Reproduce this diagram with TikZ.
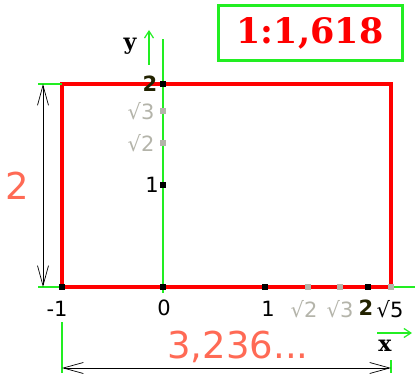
\documentclass[tikz,border=0pt]{standalone}
\usepackage{fontspec}
\setmainfont{DejaVu Sans}
\newfontfamily\serifb{DejaVu Serif}
\usetikzlibrary{arrows.meta}
\definecolor{gr}{HTML}{22EE22}
\definecolor{salm}{HTML}{FF6A55}
\definecolor{gry}{HTML}{B4B4AA}
\definecolor{olv}{HTML}{222200}
\begin{document}
\begin{tikzpicture}[x=1pt,y=-1pt,
  axis/.style={gr, line width=1.6pt},
  axarrow/.style={gr, line width=1.5pt, -{Straight Barb[length=7pt,width=9pt,line width=1.2pt]}},
  ext/.style={gr, line width=1.2pt},
  dim/.style={black, line width=0.8pt, {Straight Barb[length=20pt,width=11pt,line width=0.7pt]}-{Straight Barb[length=20pt,width=11pt,line width=0.7pt]}},
  tk/.style={fill=black, minimum size=5.5pt, inner sep=0pt, draw=none},
  tkg/.style={fill=gry, minimum size=5.5pt, inner sep=0pt, draw=none},
  lab/.style={font=\fontsize{21}{21}\selectfont, inner sep=0pt},
  labg/.style={lab, text=gry},
  labb/.style={lab, text=olv, font=\bfseries\fontsize{21}{21}\selectfont},
  big/.style={font=\fontsize{37}{37}\selectfont, text=salm, inner sep=0pt},
  axname/.style={font=\serifb\bfseries\fontsize{22}{22}\selectfont, inner sep=0pt}
]
\useasboundingbox (0,0) rectangle (415,379);
% key points
\coordinate (A) at (62,287);
\coordinate (B) at (391,287);
\coordinate (C) at (391,84);
\coordinate (D) at (62,84);
\coordinate (xl) at (38,287);
\coordinate (xr) at (415,287);
\coordinate (yt) at (163,39);
\coordinate (yb) at (163,293);
% axes
\draw[axis] (xl) -- (xr);
\draw[axis] (yb) -- (yt);
\coordinate (ya1) at (149,65);
\coordinate (ya2) at (149,30);
\draw[axarrow] (ya1) -- (ya2);
\coordinate (xa1) at (377,333);
\coordinate (xa2) at (412,333);
\draw[axarrow] (xa1) -- (xa2);
\node[axname] (ylab) at (130,46) {y};
\node[axname] (xlab) at (385,346) {x};
% rectangle
\draw[red, line width=3.5pt] (A) rectangle (C);
% extension lines
\coordinate (e1) at (38,84);
\draw[ext] (e1) -- (D);
\coordinate (e2) at (62,322);
\coordinate (e3) at (62,373);
\draw[ext] (e2) -- (e3);
\coordinate (e4) at (391,360);
\coordinate (e5) at (391,373);
\draw[ext] (e4) -- (e5);
% dimension arrows
\coordinate (v1) at (43,84);
\coordinate (v2) at (43,287);
\draw[dim] (v1) -- (v2);
\coordinate (h1) at (62,368);
\coordinate (h2) at (391,368);
\draw[dim] (h1) -- (h2);
% ticks
\node[tk] (tm1) at (62,287) {};
\node[tk] (t0) at (163,287) {};
\node[tk] (t1) at (265,287) {};
\node[tkg] (ts2) at (308,287) {};
\node[tkg] (ts3) at (340,287) {};
\node[tk] (t2) at (368,287) {};
\node[tkg] (ts5) at (391,287) {};
\node[tk] (u1) at (163,185) {};
\node[tkg] (us2) at (163,143) {};
\node[tkg] (us3) at (163,111) {};
\node[tk] (u2) at (163,84) {};
% tick labels x
\node[lab] (lm1) at (57,309) {-1};
\node[lab] (l0) at (164,308) {0};
\node[lab] (l1) at (268,309) {1};
\node[labg] (ls2) at (304,309) {√2};
\node[labg] (ls3) at (340,309) {√3};
\node[labb] (l2) at (366,308) {2};
\node[lab] (ls5) at (390,309) {√5};
% tick labels y
\node[labb] (m2) at (150,84) {2};
\node[labg] (ms3) at (141,111) {√3};
\node[labg] (ms2) at (141,143) {√2};
\node[lab] (m1) at (152,185) {1};
% big labels
\node[big] (two) at (17,186) {2};
\node[big] (len) at (238,347) {3,236...};
% ratio box
\node[draw=gr, line width=3pt, text=red, font=\serifb\bfseries\fontsize{35}{35}\selectfont, minimum width=184pt, minimum height=55pt, inner sep=0pt] (ratio) at (310,33.5) {1:1,618};
\end{tikzpicture}
\end{document}
